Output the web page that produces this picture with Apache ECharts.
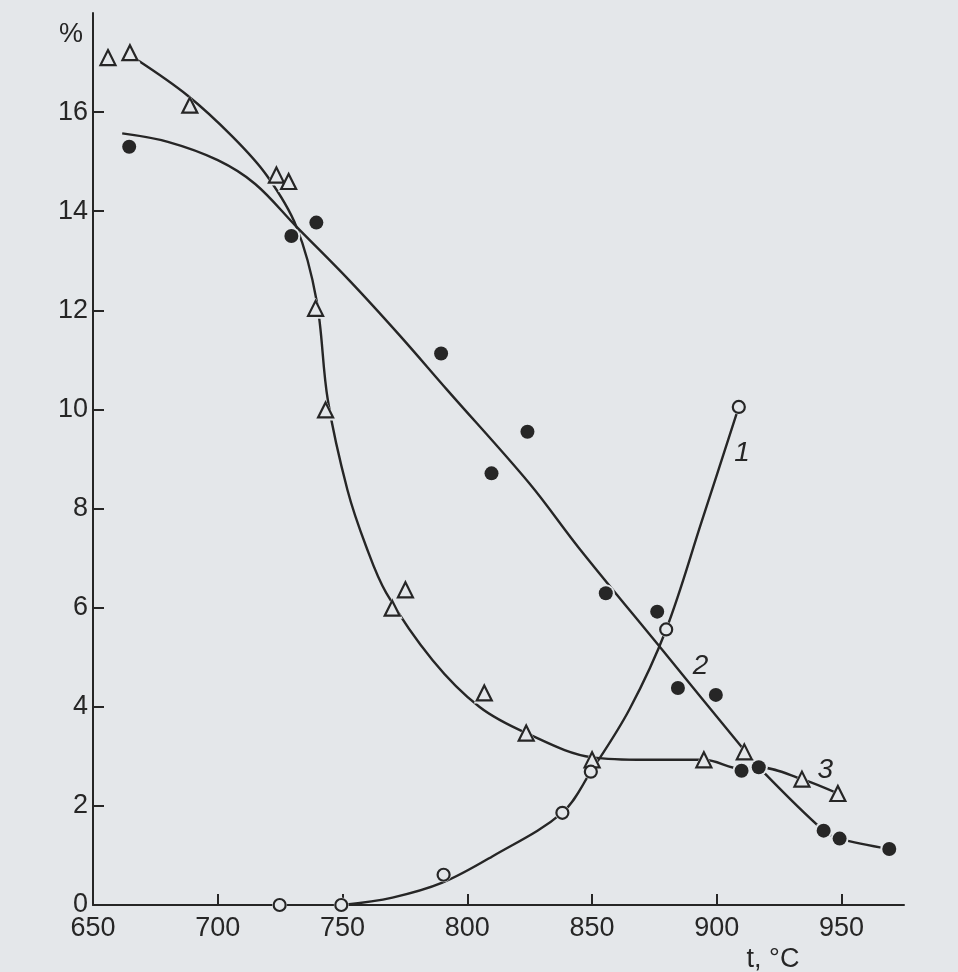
<!DOCTYPE html>
<html>
<head>
<meta charset="utf-8">
<script src="https://cdn.jsdelivr.net/npm/echarts@6/dist/echarts.min.js"></script>
<style>
  html, body { margin: 0; padding: 0; background: #e4e7ea; }
  #chart { width: 958px; height: 972px; }
</style>
</head>
<body>
<div id="chart"></div>
<script>
// ---- data ----
// x: temperature t, °C ; y: %
const xTicks = [650, 700, 750, 800, 850, 900, 950];
const yTicks = [0, 2, 4, 6, 8, 10, 12, 14, 16];

// open triangles
const triT = [656, 664.8, 688.8, 723.5, 728.4, 739.2, 743.2, 769.9, 775.2, 806.8, 823.6, 850, 894.8, 911, 934.1, 948.5];
const triV = [17.1, 17.2, 16.14, 14.73, 14.6, 12.04, 9.99, 5.99, 6.36, 4.28, 3.47, 2.93, 2.93, 3.09, 2.54, 2.25];

// filled dots
const dotT = [664.5, 729.5, 739.5, 789.5, 809.7, 824.1, 855.5, 876.1, 884.4, 899.6, 909.9, 916.8, 942.8, 949.2, 969.1];
const dotV = [15.30, 13.50, 13.77, 11.13, 8.71, 9.55, 6.29, 5.92, 4.38, 4.24, 2.71, 2.78, 1.50, 1.34, 1.13];

// open circles
const cirT = [724.8, 749.5, 790.5, 838.1, 849.5, 879.7, 908.8];
const cirV = [0, 0, 0.61, 1.86, 2.69, 5.56, 10.05];

// hand-drawn curves
const curve1T = [750, 770, 790, 810, 838, 849.5, 865, 879.7, 894, 908.8];
const curve1V = [0, 0.15, 0.45, 0.98, 1.86, 2.69, 3.95, 5.56, 7.75, 10.05];

const curve2T = [661.7, 680, 700, 715, 731.5, 752.8, 772.8, 792, 825, 844.8, 878.1, 908.8, 916.8, 942.8, 949.2, 969.1];
const curve2V = [15.57, 15.4, 15.03, 14.55, 13.69, 12.6, 11.5, 10.39, 8.5, 7.2, 5.15, 3.26, 2.78, 1.5, 1.34, 1.13];

const curve3T = [667.5, 688, 706, 719.5, 731.5, 739.6, 744.1, 752, 759.5, 767.5, 786.1, 804.8, 823.6, 850, 871.5, 894.8, 909.9, 916.8, 934.1, 948.5];
const curve3V = [17.06, 16.33, 15.5, 14.73, 13.69, 12.2, 10.19, 8.37, 7.23, 6.3, 4.94, 4.0, 3.47, 2.98, 2.93, 2.93, 2.75, 2.78, 2.54, 2.25];

// curve number labels
const curveNames = ['1', '2', '3'];
const nameT = [910.1, 893.5, 943.5];
const nameV = [9.11, 4.81, 2.72];

// ---- chart ----
const pairs = (xs, ys) => xs.map((x, i) => [x, ys[i]]);
const BG = '#e4e7ea';
const INK = '#262626';
const FONT = 'Liberation Sans, Arial, sans-serif';

const lineSeries = (data) => ({
  type: 'line', data, showSymbol: false, smooth: 0.35,
  lineStyle: { color: INK, width: 2.4 }, z: 2, silent: true, animation: false
});
const halo = (data, symbol, size) => ({
  type: 'scatter', data, symbol, symbolSize: size,
  itemStyle: { color: BG, opacity: 1 }, z: 3, silent: true, animation: false
});

const chart = echarts.init(document.getElementById('chart'), null, { renderer: 'canvas' });
chart.setOption({
  backgroundColor: BG,
  animation: false,
  grid: { left: 93, right: 54, top: 13, bottom: 67, containLabel: false },
  xAxis: {
    type: 'value', min: 650, max: 975, interval: 50,
    axisLine: { show: true, lineStyle: { color: INK, width: 2 } },
    axisTick: { show: true, inside: true, length: 11, lineStyle: { color: INK, width: 2 },
                customValues: xTicks.slice(1) },
    axisLabel: { customValues: xTicks, fontSize: 27, fontFamily: FONT, color: INK, margin: 10 },
    splitLine: { show: false }
  },
  yAxis: {
    type: 'value', min: 0, max: 18, interval: 2,
    axisLine: { show: true, lineStyle: { color: INK, width: 2 } },
    axisTick: { show: true, inside: true, length: 11, lineStyle: { color: INK, width: 2 },
                customValues: yTicks.slice(1) },
    axisLabel: { customValues: yTicks, fontSize: 27, fontFamily: FONT, color: INK, margin: 5 },
    splitLine: { show: false }
  },
  graphic: [
    { type: 'text', x: 71, y: 35, style: { text: '%', font: '27px ' + FONT, fill: INK, textAlign: 'center', textVerticalAlign: 'middle' } },
    { type: 'text', x: 773, y: 960, style: { text: 't, °C', font: '27px ' + FONT, fill: INK, textAlign: 'center', textVerticalAlign: 'middle' } }
  ],
  series: [
    lineSeries(pairs(curve1T, curve1V)),
    lineSeries(pairs(curve2T, curve2V)),
    lineSeries(pairs(curve3T, curve3V)),
    halo(pairs(triT, triV), 'triangle', [21, 21]),
    halo(pairs(dotT, dotV), 'circle', 18),
    halo(pairs(cirT, cirV), 'circle', 15),
    {
      type: 'scatter', data: pairs(triT, triV), symbol: 'triangle', symbolSize: [15, 15],
      itemStyle: { color: BG, borderColor: INK, borderWidth: 2.2, opacity: 1 }, z: 4, silent: true
    },
    {
      type: 'scatter', data: pairs(dotT, dotV), symbol: 'circle', symbolSize: 14,
      itemStyle: { color: INK, opacity: 1 }, z: 4, silent: true
    },
    {
      type: 'scatter', data: pairs(cirT, cirV), symbol: 'circle', symbolSize: 12,
      itemStyle: { color: BG, borderColor: INK, borderWidth: 2.2, opacity: 1 }, z: 4, silent: true
    },
    {
      type: 'scatter', data: pairs(nameT, nameV), symbolSize: 2,
      itemStyle: { color: 'rgba(0,0,0,0)', opacity: 1 }, z: 5, silent: true,
      label: { show: true, position: 'inside', formatter: p => curveNames[p.dataIndex],
               fontSize: 28, fontStyle: 'italic', fontFamily: FONT, color: INK }
    }
  ]
});
</script>
</body>
</html>
